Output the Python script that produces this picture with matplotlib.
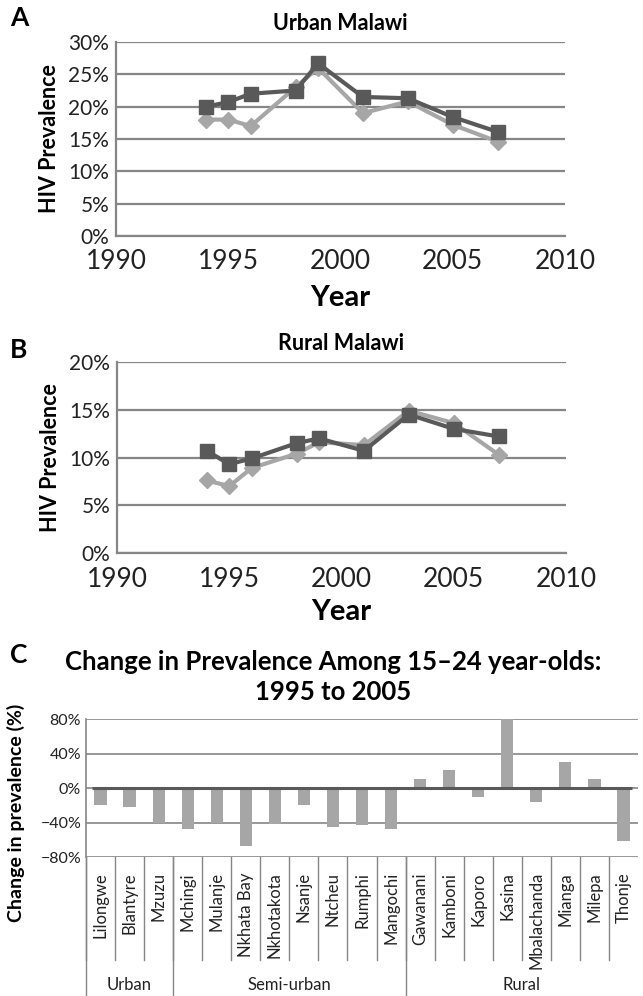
import numpy as np
import matplotlib
matplotlib.use('Agg')
import matplotlib.pyplot as plt
from matplotlib.ticker import PercentFormatter

plt.rcParams['font.family'] = ['Lato', 'DejaVu Sans']

# Panels A and B: survey years and prevalence (%)
YEARS = [1994, 1995, 1996, 1998, 1999, 2001, 2003, 2005, 2007]
URBAN_DARK = [20.0, 20.7, 22.0, 22.5, 26.7, 21.5, 21.3, 18.4, 16.1]
URBAN_LIGHT = [18.0, 18.0, 17.0, 23.0, 26.0, 19.0, 20.8, 17.2, 14.6]
RURAL_DARK = [10.7, 9.3, 9.9, 11.5, 12.0, 10.7, 14.5, 13.0, 12.2]
RURAL_LIGHT = [7.6, 7.0, 8.9, 10.4, 11.6, 11.3, 14.9, 13.6, 10.3]

# Panel C: change in prevalence 1995-2005 (%)
SITES = ['Lilongwe', 'Blantyre', 'Mzuzu',
         'Mchingi', 'Mulanje', 'Nkhata Bay', 'Nkhotakota', 'Nsanje',
         'Ntcheu', 'Rumphi', 'Mangochi',
         'Gawanani', 'Kamboni', 'Kaporo', 'Kasina', 'Mbalachanda',
         'Mianga', 'Milepa', 'Thonje']
CHANGE = [-20, -22, -41, -47, -41, -67, -42, -20, -45, -43, -47,
          10, 21, -10, 80, -16, 30, 10, -61]
GROUPS = ['Urban', 'Semi-urban', 'Rural']
GROUP_SIZES = [3, 8, 8]

DARK = '#595959'
LIGHT = '#a6a6a6'
GRID = '#868686'
TXT = '#222222'

W, H = 643, 996
fig = plt.figure(figsize=(W / 100, H / 100), dpi=100)


def ax_at(left, top, right, bottom):
    return fig.add_axes([left / W, 1 - bottom / H, (right - left) / W, (bottom - top) / H])


def line_panel(ax, dark, light, ymax, title):
    ax.plot(YEARS, light, color=LIGHT, lw=3, marker='D', ms=8, zorder=3)
    ax.plot(YEARS, dark, color=DARK, lw=3, marker='s', ms=10, zorder=4)
    ax.set_xlim(1990, 2010)
    ax.set_ylim(0, ymax)
    ax.set_xticks(range(1990, 2011, 5))
    ax.set_yticks(range(0, ymax + 1, 5))
    ax.yaxis.set_major_formatter(PercentFormatter(decimals=0))
    ax.grid(axis='y', color=GRID, lw=1.6)
    ax.set_axisbelow(True)
    for s in ['top', 'right']:
        ax.spines[s].set_visible(False)
    for s in ['left', 'bottom']:
        ax.spines[s].set_color(GRID)
        ax.spines[s].set_linewidth(1.6)
    ax.tick_params(length=0, colors=TXT)
    ax.tick_params(axis='x', labelsize=19, pad=9)
    ax.tick_params(axis='y', labelsize=15, pad=5)
    ax.set_title(title, fontsize=15.5, fontweight='bold', pad=9)
    ax.set_ylabel('HIV Prevalence', fontsize=15.5, fontweight='bold', labelpad=6)
    ax.set_xlabel('Year', fontsize=21, fontweight='bold', labelpad=8)


axA = ax_at(116, 42, 565, 236)
line_panel(axA, URBAN_DARK, URBAN_LIGHT, 30, 'Urban Malawi')
fig.text(10 / W, 1 - 18 / H, 'A', fontsize=19, fontweight='bold', va='center')

axB = ax_at(117, 362, 566, 553)
line_panel(axB, RURAL_DARK, RURAL_LIGHT, 20, 'Rural Malawi')
axB.tick_params(axis='x', pad=10)
axB.xaxis.labelpad = 5
fig.text(10 / W, 1 - 350 / H, 'B', fontsize=19, fontweight='bold', va='center')

# Panel C
axC = ax_at(86, 719, 638, 857)
x = np.arange(len(SITES))
axC.bar(x, CHANGE, width=0.42, color=LIGHT, zorder=3)
axC.hlines(0, -0.3, len(SITES) - 0.7, color=DARK, lw=2.2, zorder=4)
axC.set_xlim(-0.5, len(SITES) - 0.5)
axC.set_ylim(-80, 80)
axC.set_yticks([-80, -40, 0, 40, 80])
axC.yaxis.set_major_formatter(PercentFormatter(decimals=0))
axC.grid(axis='y', color=GRID, lw=1.2)
axC.set_axisbelow(True)
for s in ['top', 'right', 'bottom']:
    axC.spines[s].set_visible(False)
axC.spines['left'].set_color(GRID)
axC.spines['left'].set_linewidth(1.2)
axC.set_xticks([])
axC.tick_params(axis='y', length=0, labelsize=11.5, colors=TXT)
axC.set_ylabel('Change in prevalence (%)', fontsize=14, fontweight='bold')
axC.yaxis.set_label_coords(-0.11, 0.32)
axC.set_title('Change in Prevalence Among 15\u201324 year-olds:\n1995 to 2005',
              fontsize=18.5, fontweight='bold', pad=14, linespacing=1.3, x=0.447)
fig.text(10 / W, 1 - 655 / H, 'C', fontsize=19, fontweight='bold', va='center')

# category labels and separators below the axis
trans = axC.get_xaxis_transform()
axh = 857 - 719
for i, name in enumerate(SITES):
    axC.text(i, -(872 - 857) / axh, name, rotation=90, ha='center', va='top',
             fontsize=12, color=TXT, transform=trans)
for b in np.arange(-0.5, len(SITES) - 0.5):
    axC.plot([b, b], [0, -(960 - 857) / axh], color=GRID, lw=1, transform=trans, clip_on=False)
edges = np.concatenate([[0], np.cumsum(GROUP_SIZES)]) - 0.5
for e in edges[:-1]:
    axC.plot([e, e], [0, -(996 - 857) / axh], color=GRID, lw=1, transform=trans, clip_on=False)
for g, lo, hi in zip(GROUPS, edges[:-1], edges[1:]):
    axC.text((lo + hi) / 2, -(985 - 857) / axh, g, ha='center', va='center',
             fontsize=12, color=TXT, transform=trans)

fig.savefig('out.png', dpi=100)
